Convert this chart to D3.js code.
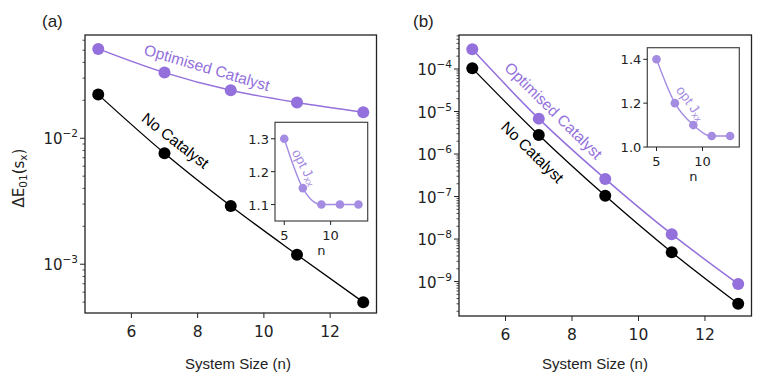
<!DOCTYPE html>
<html>
<head>
    <title>Catalyst gap scaling</title>
    <script src="https://d3js.org/d3.v7.min.js"></script>
    <style>
        body { margin: 0; padding: 0; background: #fff; overflow: hidden; }
        text { fill: #222; }
    </style>
</head>
<body>
    <script>
        // data
        var sizes = [5, 7, 9, 11, 13];
        var noCatA = [0.0222, 0.0076, 0.0029, 0.00119, 0.0005];
        var optCatA = [0.0512, 0.0332, 0.024, 0.0192, 0.0161];
        var optJA = [1.3, 1.15, 1.1, 1.1, 1.1];
        var noCatB = [1.04e-4, 2.8e-6, 1.04e-7, 4.9e-9, 3.0e-10];
        var optCatB = [2.9e-4, 6.8e-6, 2.6e-7, 1.3e-8, 8.8e-10];
        var optJB = [1.4, 1.2, 1.1, 1.05, 1.05];
        var xTicks = [6, 8, 10, 12];
        var yExpA = [-2, -3];
        var yExpB = [-4, -5, -6, -7, -8, -9];
        var insetXTicks = [5, 10];
        var insetYTicksA = [1.1, 1.2, 1.3];
        var insetYTicksB = [1.0, 1.2, 1.4];

        var purple = "#9370db",
            lightPurple = "#a48ce2",
            tickFont = "'DejaVu Sans', sans-serif",
            labelFont = "'Liberation Sans', Arial, sans-serif";

        var width = 767, height = 379;
        var svg = d3.select("body").append("svg")
            .attr("width", width)
            .attr("height", height);

        function logMinor(domain) {
            var out = [];
            var lo = Math.floor(Math.log10(domain[0])), hi = Math.ceil(Math.log10(domain[1]));
            for (var k = lo; k <= hi; k++) {
                for (var m = 2; m <= 9; m++) {
                    var v = m * Math.pow(10, k);
                    if (v >= domain[0] && v <= domain[1]) out.push(v);
                }
            }
            return out;
        }

        function drawPanel(p) {
            var g = svg.append("g");
            var x = d3.scaleLinear().domain([4.6, 13.4]).range([p.left, p.right]);
            var y = d3.scaleLog().domain(p.yDomain).range([p.bottom, p.top]);

            // minor y ticks
            g.selectAll(".minor").data(logMinor(p.yDomain)).enter().append("line")
                .attr("x1", p.left - 2.5).attr("x2", p.left)
                .attr("y1", d => y(d)).attr("y2", d => y(d))
                .attr("stroke", "#222").attr("stroke-width", 0.8);
            // major y ticks
            var yt = g.selectAll(".ymaj").data(p.yExp).enter().append("g");
            yt.append("line")
                .attr("x1", p.left - 5).attr("x2", p.left)
                .attr("y1", d => y(Math.pow(10, d))).attr("y2", d => y(Math.pow(10, d)))
                .attr("stroke", "#222").attr("stroke-width", 1);
            var ytl = yt.append("text")
                .attr("x", p.left - 7)
                .attr("y", d => y(Math.pow(10, d)) + 6)
                .attr("text-anchor", "end")
                .style("font-family", tickFont).style("font-size", "15px");
            ytl.append("tspan").text("10");
            ytl.append("tspan").attr("dy", -7).style("font-size", "10.5px")
                .text(d => "\u2212" + Math.abs(d));

            // x ticks
            var xt = g.selectAll(".xmaj").data(xTicks).enter().append("g");
            xt.append("line")
                .attr("x1", d => x(d)).attr("x2", d => x(d))
                .attr("y1", p.bottom).attr("y2", p.bottom + 5)
                .attr("stroke", "#222").attr("stroke-width", 1);
            xt.append("text")
                .attr("x", d => x(d)).attr("y", p.bottom + 24)
                .attr("text-anchor", "middle")
                .style("font-family", tickFont).style("font-size", "15.5px")
                .text(d => d);

            // series lines
            var line = d3.line().curve(d3.curveMonotoneX)
                .x((d, i) => x(sizes[i])).y(d => y(d));
            g.append("path").datum(p.noCat).attr("d", line)
                .attr("fill", "none").attr("stroke", "#000").attr("stroke-width", 1.3);
            g.append("path").datum(p.optCat).attr("d", line)
                .attr("fill", "none").attr("stroke", purple).attr("stroke-width", 1.5);
            g.selectAll(".pn").data(p.noCat).enter().append("circle")
                .attr("cx", (d, i) => x(sizes[i])).attr("cy", d => y(d)).attr("r", 6)
                .attr("fill", "#000");
            g.selectAll(".po").data(p.optCat).enter().append("circle")
                .attr("cx", (d, i) => x(sizes[i])).attr("cy", d => y(d)).attr("r", 6)
                .attr("fill", purple);

            // frame
            g.append("rect")
                .attr("x", p.left).attr("y", p.top)
                .attr("width", p.right - p.left).attr("height", p.bottom - p.top)
                .attr("fill", "none").attr("stroke", "#222").attr("stroke-width", 1.3);

            // series labels
            g.append("text")
                .attr("transform", "translate(" + p.optLab[0] + "," + p.optLab[1] + ") rotate(" + p.optLab[2] + ")")
                .attr("text-anchor", "middle").attr("dominant-baseline", "central")
                .style("font-family", labelFont).style("font-size", "15.5px")
                .style("fill", purple).text("Optimised Catalyst");
            g.append("text")
                .attr("transform", "translate(" + p.noLab[0] + "," + p.noLab[1] + ") rotate(" + p.noLab[2] + ")")
                .attr("text-anchor", "middle").attr("dominant-baseline", "central")
                .style("font-family", labelFont).style("font-size", "15.5px")
                .style("fill", "#000").text("No Catalyst");

            // x label and panel tag
            g.append("text")
                .attr("x", p.xLab[0]).attr("y", p.xLab[1])
                .attr("text-anchor", "middle")
                .style("font-family", labelFont).style("font-size", "15px")
                .text("System Size (n)");
            g.append("text")
                .attr("x", p.tag[0]).attr("y", p.tag[1])
                .style("font-family", labelFont).style("font-size", "17px")
                .text(p.tagText);

            // inset
            var ins = p.inset;
            var ix = d3.scaleLinear().domain([4, 14]).range([ins.left, ins.right]);
            var iy = d3.scaleLinear().domain(ins.yDomain).range([ins.bottom, ins.top]);
            g.append("rect")
                .attr("x", ins.left).attr("y", ins.top)
                .attr("width", ins.right - ins.left).attr("height", ins.bottom - ins.top)
                .attr("fill", "#fff").attr("stroke", "#444").attr("stroke-width", 1.2);
            var ixt = g.selectAll(".ixt").data(insetXTicks).enter().append("g");
            ixt.append("line")
                .attr("x1", d => ix(d)).attr("x2", d => ix(d))
                .attr("y1", ins.bottom).attr("y2", ins.bottom + 4)
                .attr("stroke", "#222");
            ixt.append("text")
                .attr("x", d => ix(d)).attr("y", ins.bottom + 19)
                .attr("text-anchor", "middle")
                .style("font-family", tickFont).style("font-size", "13px")
                .text(d => d);
            var iyt = g.selectAll(".iyt").data(ins.yTicks).enter().append("g");
            iyt.append("line")
                .attr("x1", ins.left - 4).attr("x2", ins.left)
                .attr("y1", d => iy(d)).attr("y2", d => iy(d))
                .attr("stroke", "#222");
            iyt.append("text")
                .attr("x", ins.left - 6).attr("y", d => iy(d) + 5)
                .attr("text-anchor", "end")
                .style("font-family", tickFont).style("font-size", "13px")
                .text(d => d.toFixed(1));
            g.append("text")
                .attr("x", (ins.left + ins.right) / 2).attr("y", ins.bottom + 34)
                .attr("text-anchor", "middle")
                .style("font-family", tickFont).style("font-size", "13px")
                .text("n");
            var iline = d3.line().curve(d3.curveMonotoneX)
                .x((d, i) => ix(sizes[i])).y(d => iy(d));
            g.append("path").datum(ins.data).attr("d", iline)
                .attr("fill", "none").attr("stroke", lightPurple).attr("stroke-width", 1.4);
            g.selectAll(".ip").data(ins.data).enter().append("circle")
                .attr("cx", (d, i) => ix(sizes[i])).attr("cy", d => iy(d)).attr("r", 4.3)
                .attr("fill", lightPurple);
            var jt = g.append("text")
                .attr("transform", "translate(" + ins.lab[0] + "," + ins.lab[1] + ") rotate(" + ins.lab[2] + ")")
                .attr("text-anchor", "middle").attr("dominant-baseline", "central")
                .style("font-family", labelFont).style("font-size", "13.5px")
                .style("fill", lightPurple);
            jt.append("tspan").text("opt J");
            jt.append("tspan").attr("dy", 3).style("font-size", "9.5px").text("xx");
        }

        drawPanel({
            left: 85, right: 376.5, top: 35, bottom: 313,
            yDomain: [4.1e-4, 0.066], yExp: yExpA,
            noCat: noCatA, optCat: optCatA,
            optLab: [207, 67.5, 16.4], noLab: [175.5, 140.5, 38],
            xLab: [238, 369], tag: [42, 27], tagText: "(a)",
            inset: {
                left: 275, right: 367.7, top: 122.3, bottom: 221,
                yDomain: [1.05, 1.35], yTicks: insetYTicksA, data: optJA,
                lab: [305, 167, 62]
            }
        });

        drawPanel({
            left: 459, right: 751.5, top: 35, bottom: 316,
            yDomain: [1.55e-10, 6.3e-4], yExp: yExpB,
            noCat: noCatB, optCat: optCatB,
            optLab: [553.5, 110.5, 44.7], noLab: [532.5, 152, 44.4],
            xLab: [595, 369], tag: [413, 27], tagText: "(b)",
            inset: {
                left: 647.3, right: 739.3, top: 47.7, bottom: 147,
                yDomain: [1.0, 1.453], yTicks: insetYTicksB, data: optJB,
                lab: [691, 103, 54]
            }
        });

        // y label of panel (a)
        var yl = svg.append("text")
            .attr("transform", "translate(24,178) rotate(-90)")
            .attr("text-anchor", "middle")
            .style("font-family", tickFont).style("font-size", "15px");
        yl.append("tspan").text("\u0394E");
        yl.append("tspan").attr("dy", 3).style("font-size", "10.5px").text("01");
        yl.append("tspan").attr("dy", -3).text("(s");
        yl.append("tspan").attr("dy", 3).style("font-size", "10.5px").text("x");
        yl.append("tspan").attr("dy", -3).text(")");
    </script>
</body>
</html>
